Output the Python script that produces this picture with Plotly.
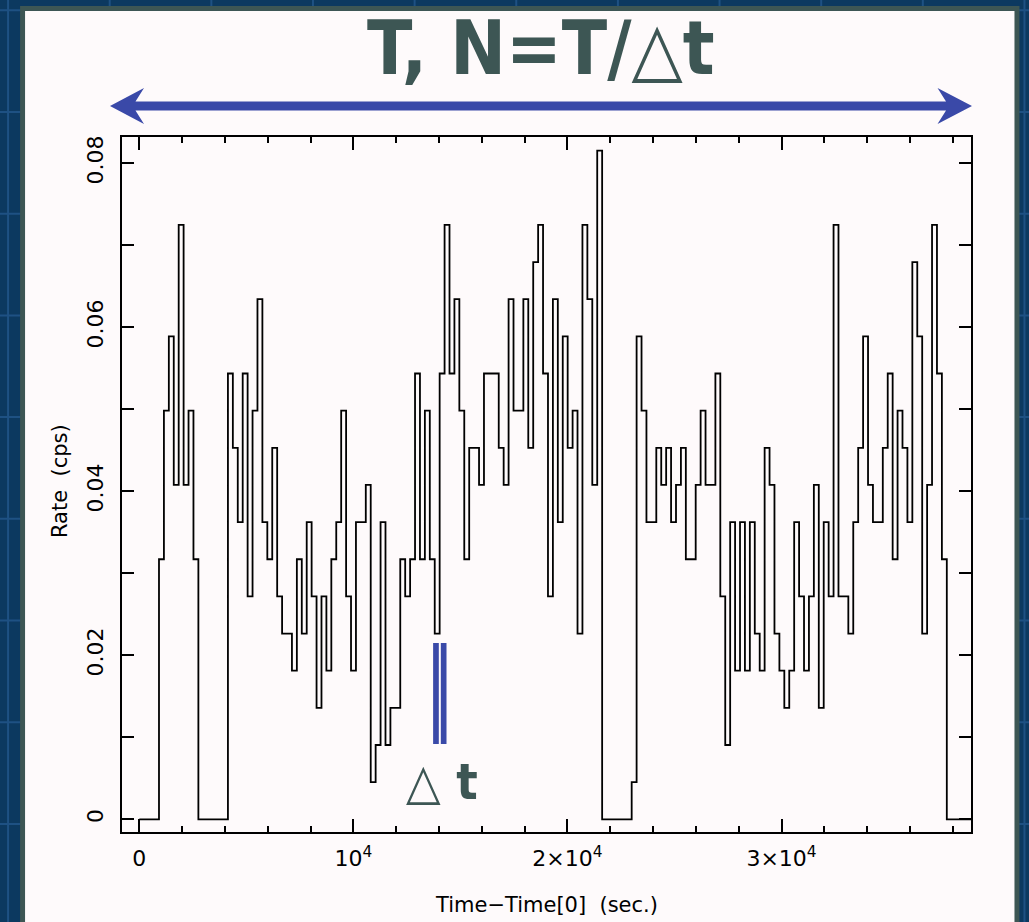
import plotly.graph_objects as go

# ---------------- data ----------------
bin_width_s = 230          # time bin width (s)
cps_per_count = 0.00453    # rate of one count in a bin (cps)

# counts per 230 s bin, starting at Time-Time[0] = 0
counts = [
    0, 0, 0, 0, 7, 11, 13, 9, 16, 9, 11, 7,            # 0-11
    0, 0, 0, 0, 0, 0,                                  # 12-17
    12, 10, 8, 12, 6, 11, 14, 8, 7, 10,                # 18-27
    6, 5, 5, 4, 7, 5, 8, 6, 3, 6,                      # 28-37
    4, 7, 8, 11, 6, 4, 8, 8, 9, 1,                     # 38-47
    2, 8, 2, 3, 3, 7, 6, 7, 12, 7,                     # 48-57
    11, 7, 5, 12, 16, 12, 14, 11, 7, 10,               # 58-67
    10, 9, 12, 12, 12, 10, 9, 14, 11, 11,              # 68-77
    14, 10, 15, 16, 12, 6, 14, 8, 13, 10,              # 78-87
    11, 5, 16, 14, 9, 18,                              # 88-93
    0, 0, 0, 0, 0, 0,                                  # 94-99
    1, 13, 11, 8, 8, 10, 9, 10, 8, 9,                  # 100-109
    10, 7, 7, 9, 11, 9, 9, 12, 6, 2,                   # 110-119
    8, 4, 8, 4, 8, 5, 4, 10, 9, 5,                     # 120-129
    4, 3, 4, 8, 6, 4, 6, 9, 3, 8,                      # 130-139
    6, 16, 6, 6, 5, 8, 10, 13, 9, 8,                   # 140-149
    8, 10, 12, 7, 11, 10, 8, 15, 13, 5,                # 150-159
    9, 16, 12, 7, 0, 0, 0, 0, 0,                       # 160-168
]

x_tick_vals = [0, 10000, 20000, 30000]
x_tick_text = ["0", "10<sup>4</sup>", "2×10<sup>4</sup>", "3×10<sup>4</sup>"]
y_tick_vals = [0, 0.02, 0.04, 0.06, 0.08]
y_tick_text = ["0", "0.02", "0.04", "0.06", "0.08"]

title_text = "T, N=T/△t"
dt_text = "△ t"
x_title = "Time−Time[0]  (sec.)"
y_title = "Rate  (cps)"

# ---------------- build step curve ----------------
rates = [c * cps_per_count for c in counts]
edges = [i * bin_width_s for i in range(len(counts) + 1)]
step_y = rates + [rates[-1]]

# ---------------- layout geometry (pixels) ----------------
W, H = 1029, 922
L, R, T, B = 122, 971.5, 137, 832

def px(xp):
    return (xp - L) / (R - L)

def py(yp):
    return (B - yp) / (B - T)

NAVY = "#0c3960"
GRID = "#1e5183"
SLATE = "#3d5654"
PANEL = "#fefafb"
BLUE = "#3a49a8"

fig = go.Figure()
fig.add_trace(go.Scatter(
    x=edges, y=step_y, mode="lines", line=dict(color="black", width=1.8, shape="hv"),
    hoverinfo="skip", showlegend=False,
))

shapes = []
# navy slide grid
for k in range(11):
    xv = 8 + 101.7 * k
    shapes.append(dict(type="line", xref="paper", yref="paper", x0=px(xv), x1=px(xv),
                       y0=py(-5), y1=py(H + 5), line=dict(color=GRID, width=2), layer="below"))
for k in range(10):
    yv = 10.3 + 101.7 * k
    shapes.append(dict(type="line", xref="paper", yref="paper", x0=px(-5), x1=px(W + 5),
                       y0=py(yv), y1=py(yv), line=dict(color=GRID, width=2), layer="below"))
# panel border and panel
shapes.append(dict(type="rect", xref="paper", yref="paper", x0=px(20), x1=px(1020),
                   y0=py(6), y1=py(H + 10), fillcolor=SLATE, line=dict(width=0), layer="below"))
shapes.append(dict(type="rect", xref="paper", yref="paper", x0=px(25), x1=px(1015),
                   y0=py(11), y1=py(H + 10), fillcolor=PANEL, line=dict(width=0), layer="below"))

# double arrow
pts = [(110, 106), (144, 88), (135.5, 101.5), (946.5, 101.5), (938, 88), (972.5, 106),
       (938, 124), (946.5, 110.5), (135.5, 110.5), (144, 124)]
path = "M " + " L ".join(f"{px(a):.5f},{py(b):.5f}" for a, b in pts) + " Z"
shapes.append(dict(type="path", xref="paper", yref="paper", path=path,
                   fillcolor=BLUE, line=dict(width=0), layer="above"))
# delta-t bars
for x0, x1 in [(433.3, 439.0), (441.0, 446.7)]:
    shapes.append(dict(type="rect", xref="paper", yref="paper", x0=px(x0), x1=px(x1),
                       y0=py(744), y1=py(643), fillcolor=BLUE, line=dict(width=0), layer="above"))

cond_font = "DejaVu Sans Condensed, Liberation Sans Narrow, DejaVu Sans, sans-serif"
annotations = [
    dict(text=title_text, xref="paper", yref="paper", x=px(541), y=py(48), xanchor="center",
         yanchor="middle", showarrow=False,
         font=dict(family=cond_font, size=74, color=SLATE, weight="bold")),
    dict(text=dt_text, xref="paper", yref="paper", x=px(442), y=py(782), xanchor="center",
         yanchor="middle", showarrow=False,
         font=dict(family=cond_font, size=50, color=SLATE, weight="bold")),
    dict(text=x_title, xref="paper", yref="paper", x=px(547), y=py(905), xanchor="center",
         yanchor="middle", showarrow=False,
         font=dict(family="DejaVu Sans", size=21, color="black")),
    dict(text=y_title, xref="paper", yref="paper", x=px(60), y=py(481), xanchor="center",
         yanchor="middle", showarrow=False, textangle=-90,
         font=dict(family="DejaVu Sans", size=21, color="black")),
]

axis_common = dict(showline=True, linecolor="black", linewidth=2, mirror="ticks",
                   ticks="inside", tickcolor="black", tickwidth=1.6, showgrid=False,
                   zeroline=False, tickfont=dict(family="DejaVu Sans", size=22, color="black"))

fig.update_layout(
    width=W, height=H, autosize=False,
    margin=dict(l=L, r=W - R, t=T, b=H - B, pad=0),
    paper_bgcolor=NAVY, plot_bgcolor=PANEL,
    showlegend=False, hovermode=False,
    shapes=shapes, annotations=annotations,
    xaxis=dict(range=[-808, 38850], tickmode="array", tickvals=x_tick_vals, ticktext=x_tick_text,
               ticklen=13, ticklabelstandoff=6,
               minor=dict(dtick=2000, tick0=0, ticklen=6, ticks="inside", tickcolor="black", tickwidth=1.6),
               **axis_common),
    yaxis=dict(range=[-0.00155, 0.0832], tickmode="array", tickvals=y_tick_vals, ticktext=y_tick_text,
               ticklen=12, tickangle=-90, ticklabelstandoff=8,
               minor=dict(dtick=0.01, tick0=0, ticklen=12, ticks="inside", tickcolor="black", tickwidth=1.6),
               **axis_common),
)

fig.write_html("out.html")
